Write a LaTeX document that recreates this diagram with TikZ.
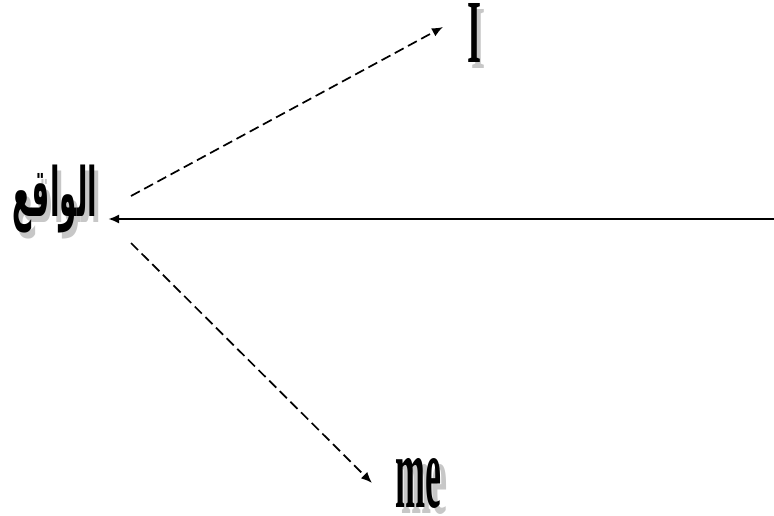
\documentclass[tikz,border=0pt]{standalone}
\usepackage{fontspec}
\usepackage{graphicx}
\setmainfont{Liberation Serif}
\newfontfamily\arabicfont[Script=Arabic]{DejaVu Sans}
\TeXXeTstate=1
\usetikzlibrary{arrows.meta}
\definecolor{shadowgray}{gray}{0.78}
\newcommand{\arword}{\resizebox*{84pt}{68pt}{\arabicfont\bfseries\beginR الواقع\endR}}
\newcommand{\Iword}{\resizebox*{14pt}{59pt}{\bfseries I}}
\newcommand{\meword}{\resizebox*{46pt}{50pt}{\bfseries me}}
\begin{document}
\begin{tikzpicture}[x=1pt,y=-1pt,
  txt/.style={inner sep=0pt,outer sep=0pt,anchor=north west},
  shadowtxt/.style={txt,text=shadowgray},
  artxt/.style={inner sep=0pt,outer sep=0pt,anchor=center},
  solidarrow/.style={line width=2.2pt,-{Latex[length=11pt,width=9pt]}},
  dasharrow/.style={line width=1.7pt,dash pattern=on 10pt off 5pt,-{Latex[length=11pt,width=9pt]}}]
\useasboundingbox (0,0) rectangle (774,515);
% shadows
\node[artxt,text=shadowgray] (ws) at (59,205) {\arword};
\node[shadowtxt] (Is) at (471,9) {\Iword};
\node[shadowtxt] (mes) at (401,464) {\meword};
% texts
\node[artxt] (w) at (55,199) {\arword};
\node[txt] (I) at (467,3) {\Iword};
\node[txt] (me) at (395,458) {\meword};
% connector ends
\coordinate (r) at (774,219);
\coordinate (wr) at (108,219);
\coordinate (wu) at (131,196);
\coordinate (wd) at (131,243);
\coordinate (It) at (443,27);
\coordinate (met) at (372,483);
\draw[solidarrow] (r) -- (wr);
\draw[dasharrow] (wu) -- (It);
\draw[dasharrow] (wd) -- (met);
\end{tikzpicture}
\end{document}
